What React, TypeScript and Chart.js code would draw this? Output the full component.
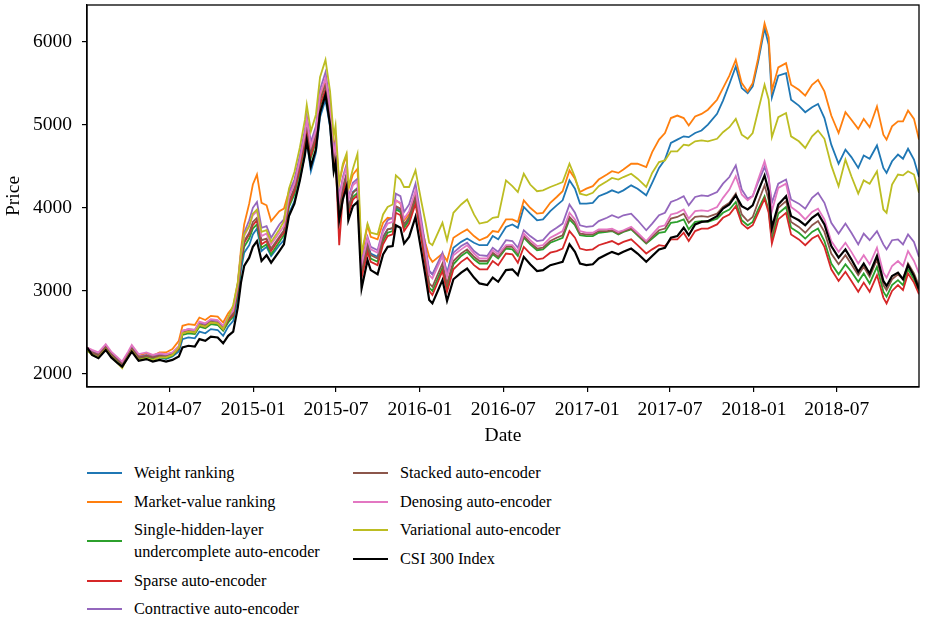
import React, { useEffect, useRef } from "react";
import { Chart, registerables } from "chart.js";

Chart.register(...registerables);

// sample dates (roughly every two weeks, plus turning points)
const dates = [
  "2014-01-02", "2014-01-13", "2014-01-27", "2014-02-12", "2014-02-24", "2014-03-10", "2014-03-20", "2014-04-02", "2014-04-10", "2014-04-25",
  "2014-05-12", "2014-05-26", "2014-06-10", "2014-06-24", "2014-07-08", "2014-07-22", "2014-07-30", "2014-08-12", "2014-08-26", "2014-09-05",
  "2014-09-18", "2014-09-30", "2014-10-15", "2014-10-27", "2014-11-07", "2014-11-18", "2014-11-28", "2014-12-05", "2014-12-12", "2014-12-23",
  "2014-12-31", "2015-01-09", "2015-01-19", "2015-01-30", "2015-02-09", "2015-02-27", "2015-03-09", "2015-03-20", "2015-04-01", "2015-04-13",
  "2015-04-24", "2015-04-28", "2015-05-07", "2015-05-18", "2015-05-27", "2015-06-08", "2015-06-18", "2015-06-26", "2015-06-30", "2015-07-08",
  "2015-07-16", "2015-07-24", "2015-07-28", "2015-08-07", "2015-08-17", "2015-08-26", "2015-09-08", "2015-09-15", "2015-09-30", "2015-10-12",
  "2015-10-22", "2015-11-02", "2015-11-09", "2015-11-19", "2015-11-27", "2015-12-08", "2015-12-22", "2016-01-04", "2016-01-13", "2016-01-21",
  "2016-01-28", "2016-02-19", "2016-02-29", "2016-03-14", "2016-03-31", "2016-04-13", "2016-04-28", "2016-05-10", "2016-05-27", "2016-06-08",
  "2016-06-20", "2016-07-07", "2016-07-21", "2016-08-02", "2016-08-15", "2016-08-29", "2016-09-13", "2016-09-26", "2016-10-12", "2016-10-26",
  "2016-11-08", "2016-11-23", "2016-12-05", "2016-12-16", "2016-12-30", "2017-01-13", "2017-01-26", "2017-02-13", "2017-02-24", "2017-03-10",
  "2017-03-21", "2017-04-07", "2017-04-21", "2017-05-10", "2017-05-23", "2017-06-07", "2017-06-20", "2017-07-03", "2017-07-17", "2017-07-31",
  "2017-08-11", "2017-08-25", "2017-09-08", "2017-09-22", "2017-10-12", "2017-10-25", "2017-11-08", "2017-11-22", "2017-12-05", "2017-12-18",
  "2017-12-29", "2018-01-10", "2018-01-24", "2018-02-02", "2018-02-09", "2018-02-23", "2018-03-12", "2018-03-23", "2018-04-09", "2018-04-23",
  "2018-05-08", "2018-05-21", "2018-06-04", "2018-06-19", "2018-07-05", "2018-07-20", "2018-08-02", "2018-08-17", "2018-08-29", "2018-09-11",
  "2018-09-27", "2018-10-11", "2018-10-18", "2018-10-30", "2018-11-12", "2018-11-23", "2018-12-04", "2018-12-17", "2018-12-28",
];

const weightRanking = [
  2300, 2250, 2210, 2310, 2220, 2150, 2100, 2220, 2290, 2180,
  2200, 2170, 2200, 2180, 2210, 2270, 2420, 2440, 2430, 2510,
  2490, 2540, 2530, 2460, 2570, 2640, 2920, 3250, 3460, 3550,
  3680, 3750, 3480, 3530, 3420, 3550, 3610, 3930, 4080, 4350,
  4640, 4810, 4440, 4660, 5090, 5300, 4970, 4460, 4580, 3950,
  4230, 4400, 4000, 4190, 4240, 3250, 3570, 3450, 3410, 3650,
  3740, 3750, 4000, 3970, 3780, 3870, 4110, 3710, 3470, 3240,
  3200, 3430, 3210, 3520, 3590, 3630, 3580, 3550, 3550, 3660,
  3620, 3770, 3800, 3760, 4010, 3930, 3850, 3860, 3960, 4030,
  4090, 4330, 4230, 4050, 4050, 4060, 4140, 4180, 4210, 4180,
  4210, 4270, 4230, 4150, 4300, 4480, 4580, 4780, 4820, 4860,
  4850, 4900, 4930, 5000, 5130, 5290, 5490, 5700, 5440, 5380,
  5460, 5760, 6160, 5960, 5330, 5590, 5620, 5300, 5230, 5150,
  5210, 5250, 5080, 4760, 4530, 4700, 4610, 4480, 4630, 4590,
  4750, 4480, 4420, 4560, 4640, 4590, 4710, 4580, 4370,
];

const marketValueRanking = [
  2320, 2270, 2240, 2340, 2250, 2180, 2140, 2250, 2320, 2220,
  2250, 2220, 2260, 2260, 2300, 2400, 2580, 2600, 2590, 2680,
  2650, 2700, 2690, 2620, 2730, 2810, 3100, 3500, 3800, 4050,
  4280, 4400, 4060, 4030, 3840, 3960, 3990, 4200, 4310, 4580,
  4880, 5050, 4720, 4900, 5320, 5510, 5200, 4720, 4840, 4300,
  4500, 4630, 4220, 4400, 4470, 3410, 3790, 3650, 3620, 3820,
  3880, 3870, 4090, 4050, 3850, 3920, 4150, 3770, 3570, 3410,
  3350, 3450, 3360, 3640, 3700, 3740, 3660, 3610, 3650, 3720,
  3710, 3860, 3860, 3830, 4090, 4000, 3930, 3940, 4060, 4130,
  4200, 4450, 4350, 4190, 4230, 4260, 4340, 4400, 4440, 4420,
  4460, 4530, 4530, 4490, 4670, 4820, 4900, 5080, 5110, 5080,
  4990, 5100, 5130, 5180, 5300, 5440, 5590, 5780, 5500, 5400,
  5500, 5800, 6220, 6050, 5410, 5690, 5740, 5480, 5420, 5350,
  5480, 5540, 5400, 5110, 4900, 5150, 5060, 4950, 5070, 4970,
  5220, 4880, 4820, 4980, 5040, 5040, 5170, 5070, 4820,
];

const singleHiddenLayer = [
  2280, 2240, 2200, 2310, 2220, 2150, 2100, 2220, 2290, 2180,
  2200, 2180, 2200, 2190, 2220, 2300, 2470, 2490, 2480, 2570,
  2550, 2600, 2590, 2520, 2620, 2690, 2980, 3320, 3530, 3630,
  3750, 3800, 3520, 3560, 3440, 3590, 3670, 4010, 4160, 4440,
  4750, 4920, 4600, 4790, 5220, 5410, 5060, 4500, 4610, 3940,
  4200, 4350, 3950, 4130, 4180, 3210, 3510, 3390, 3350, 3600,
  3700, 3720, 3980, 3950, 3760, 3850, 4120, 3680, 3350, 3040,
  3000, 3280, 3040, 3320, 3420, 3470, 3380, 3330, 3330, 3440,
  3390, 3510, 3500, 3420, 3640, 3560, 3490, 3500, 3580, 3610,
  3640, 3860, 3790, 3670, 3660, 3660, 3700, 3710, 3720, 3680,
  3710, 3740, 3670, 3570, 3630, 3700, 3710, 3820, 3830, 3860,
  3740, 3830, 3840, 3830, 3870, 3940, 3980, 4070, 3850, 3790,
  3830, 3980, 4140, 3970, 3630, 3930, 4010, 3760, 3700, 3630,
  3710, 3750, 3600, 3330, 3200, 3320, 3230, 3110, 3210, 3090,
  3290, 2990, 2930, 3070, 3130, 3070, 3260, 3140, 3000,
];

const sparseAE = [
  2300, 2260, 2230, 2330, 2240, 2170, 2120, 2240, 2310, 2200,
  2220, 2200, 2220, 2210, 2230, 2310, 2490, 2510, 2500, 2590,
  2570, 2620, 2610, 2540, 2650, 2710, 3020, 3360, 3580, 3680,
  3790, 3850, 3560, 3600, 3480, 3630, 3700, 4040, 4200, 4480,
  4790, 4960, 4630, 4820, 5240, 5420, 5070, 4500, 4620, 3550,
  4160, 4320, 3920, 4100, 4150, 3160, 3470, 3350, 3310, 3560,
  3660, 3680, 3940, 3910, 3720, 3810, 4050, 3620, 3300, 3000,
  2950, 3240, 2990, 3260, 3350, 3400, 3310, 3260, 3260, 3360,
  3310, 3450, 3440, 3340, 3530, 3450, 3380, 3390, 3460, 3480,
  3510, 3720, 3640, 3510, 3490, 3500, 3550, 3580, 3600, 3560,
  3590, 3620, 3550, 3450, 3500, 3550, 3540, 3620, 3620, 3700,
  3600, 3720, 3750, 3750, 3800, 3880, 3920, 4020, 3810, 3750,
  3790, 3940, 4110, 3940, 3570, 3860, 3940, 3680, 3620, 3550,
  3630, 3670, 3530, 3260, 3120, 3230, 3120, 2990, 3100, 2990,
  3190, 2920, 2850, 3000, 3070, 3010, 3210, 3100, 2960,
];

const contractiveAE = [
  2310, 2270, 2240, 2340, 2250, 2180, 2130, 2250, 2320, 2210,
  2230, 2210, 2240, 2220, 2250, 2330, 2520, 2540, 2530, 2620,
  2600, 2650, 2640, 2570, 2680, 2760, 3080, 3450, 3700, 3850,
  4000, 4070, 3760, 3780, 3640, 3800, 3860, 4180, 4340, 4630,
  4940, 5110, 4790, 4980, 5420, 5630, 5260, 4700, 4800, 4130,
  4370, 4520, 4120, 4300, 4350, 3350, 3650, 3530, 3490, 3740,
  3850, 3880, 4170, 4140, 3950, 4040, 4290, 3850, 3530, 3240,
  3200, 3460, 3210, 3460, 3540, 3580, 3480, 3430, 3420, 3520,
  3470, 3610, 3600, 3520, 3730, 3660, 3600, 3610, 3710, 3760,
  3810, 4040, 3940, 3790, 3770, 3780, 3840, 3880, 3910, 3880,
  3910, 3930, 3850, 3730, 3810, 3910, 3940, 4070, 4100, 4140,
  4030, 4130, 4150, 4140, 4190, 4290, 4370, 4510, 4220, 4110,
  4140, 4310, 4490, 4350, 4060, 4290, 4340, 4100, 4050, 3990,
  4120, 4180, 4060, 3820, 3690, 3810, 3700, 3560, 3690, 3610,
  3720, 3560, 3500, 3610, 3620, 3560, 3680, 3590, 3410,
];

const stackedAE = [
  2300, 2260, 2230, 2330, 2240, 2170, 2120, 2240, 2310, 2200,
  2220, 2200, 2220, 2210, 2240, 2320, 2500, 2520, 2510, 2600,
  2580, 2630, 2620, 2550, 2660, 2730, 3030, 3380, 3600, 3700,
  3830, 3880, 3610, 3630, 3510, 3650, 3730, 4080, 4240, 4530,
  4840, 5010, 4680, 4870, 5290, 5480, 5120, 4570, 4680, 3990,
  4250, 4400, 4000, 4180, 4230, 3260, 3550, 3430, 3390, 3640,
  3740, 3760, 4020, 3990, 3800, 3890, 4140, 3710, 3390, 3090,
  3050, 3330, 3090, 3360, 3450, 3500, 3410, 3360, 3360, 3460,
  3410, 3530, 3530, 3450, 3660, 3580, 3510, 3520, 3600, 3640,
  3670, 3890, 3820, 3690, 3680, 3680, 3720, 3720, 3730, 3690,
  3720, 3750, 3680, 3580, 3650, 3730, 3750, 3870, 3890, 3930,
  3820, 3890, 3900, 3890, 3930, 4010, 4060, 4170, 3920, 3840,
  3890, 4070, 4270, 4090, 3700, 4000, 4080, 3830, 3770, 3700,
  3790, 3840, 3710, 3450, 3320, 3430, 3320, 3190, 3290, 3170,
  3380, 3070, 3010, 3140, 3200, 3140, 3330, 3210, 3060,
];

const denoisingAE = [
  2320, 2290, 2260, 2360, 2270, 2200, 2150, 2270, 2350, 2240,
  2260, 2230, 2250, 2240, 2260, 2340, 2520, 2540, 2530, 2630,
  2610, 2660, 2650, 2580, 2690, 2760, 3070, 3430, 3660, 3780,
  3910, 3960, 3660, 3690, 3560, 3700, 3780, 4130, 4290, 4580,
  4890, 5060, 4740, 4930, 5360, 5560, 5200, 4650, 4760, 4090,
  4340, 4490, 4090, 4270, 4320, 3320, 3630, 3500, 3460, 3710,
  3810, 3830, 4090, 4060, 3870, 3960, 4210, 3780, 3470, 3190,
  3150, 3420, 3170, 3430, 3500, 3550, 3450, 3390, 3390, 3490,
  3440, 3550, 3550, 3470, 3690, 3610, 3540, 3550, 3640, 3680,
  3720, 3940, 3860, 3720, 3700, 3700, 3740, 3740, 3750, 3710,
  3730, 3770, 3700, 3600, 3680, 3770, 3790, 3920, 3940, 3980,
  3870, 3960, 3970, 3960, 4010, 4120, 4220, 4380, 4160, 4090,
  4140, 4340, 4560, 4380, 3960, 4240, 4290, 4010, 3940, 3860,
  3950, 3990, 3860, 3600, 3470, 3580, 3470, 3330, 3430, 3320,
  3520, 3220, 3160, 3300, 3360, 3300, 3480, 3360, 3210,
];

const variationalAE = [
  2290, 2230, 2200, 2300, 2210, 2130, 2070, 2210, 2280, 2170,
  2190, 2170, 2200, 2200, 2230, 2320, 2490, 2510, 2500, 2590,
  2570, 2620, 2610, 2540, 2680, 2830, 3100, 3450, 3680, 3780,
  3930, 3980, 3710, 3730, 3590, 3740, 3840, 4230, 4430, 4730,
  5060, 5240, 4920, 5120, 5570, 5780, 5400, 4860, 4990, 4300,
  4530, 4650, 4250, 4470, 4650, 3450, 3810, 3700, 3680, 3920,
  4010, 4040, 4390, 4340, 4250, 4250, 4450, 4070, 3820, 3580,
  3550, 3820, 3610, 3940, 4040, 4100, 3920, 3810, 3830, 3880,
  3890, 4330, 4260, 4190, 4410, 4280, 4200, 4210, 4250, 4280,
  4310, 4530, 4370, 4170, 4150, 4180, 4260, 4320, 4360, 4340,
  4370, 4410, 4350, 4250, 4420, 4550, 4570, 4680, 4680, 4760,
  4750, 4800, 4810, 4800, 4830, 4910, 4970, 5070, 4880, 4830,
  4900, 5170, 5480, 5300, 4850, 5090, 5140, 4860, 4800, 4720,
  4860, 4930, 4830, 4510, 4260, 4580, 4380, 4170, 4330, 4290,
  4440, 3980, 3940, 4280, 4400, 4390, 4440, 4400, 4180,
];

const csi300 = [
  2320, 2230, 2190, 2290, 2200, 2130, 2090, 2200, 2270, 2160,
  2180, 2150, 2170, 2150, 2170, 2210, 2320, 2340, 2330, 2420,
  2400, 2450, 2440, 2370, 2460, 2510, 2800, 3100, 3300, 3400,
  3530, 3600, 3360, 3430, 3340, 3480, 3560, 3900, 4050, 4330,
  4640, 4810, 4500, 4700, 5140, 5360, 5000, 4440, 4540, 3850,
  4100, 4250, 3850, 4020, 4070, 3030, 3370, 3250, 3200, 3440,
  3530, 3540, 3790, 3760, 3570, 3650, 3890, 3470, 3170, 2890,
  2850, 3130, 2880, 3140, 3220, 3270, 3160, 3090, 3070, 3160,
  3110, 3250, 3260, 3190, 3410, 3320, 3240, 3250, 3310, 3330,
  3350, 3560, 3470, 3330, 3310, 3320, 3390, 3440, 3470, 3440,
  3470, 3510, 3450, 3350, 3420, 3500, 3520, 3640, 3660, 3760,
  3670, 3800, 3830, 3840, 3900, 3990, 4040, 4150, 4020, 3980,
  4030, 4200, 4390, 4200, 3760, 4040, 4140, 3900, 3850, 3790,
  3880, 3930, 3800, 3540, 3400, 3500, 3380, 3230, 3330, 3210,
  3420, 3120, 3060, 3180, 3220, 3140, 3310, 3180, 3020,
];

const xTickLabels = ["2014-07", "2015-01", "2015-07", "2016-01", "2016-07", "2017-01", "2017-07", "2018-01", "2018-07"];
const yTicks = [2000, 3000, 4000, 5000, 6000];

const series = [
  { label: "Weight ranking", data: weightRanking, color: "#1f77b4" },
  { label: "Market-value ranking", data: marketValueRanking, color: "#ff7f0e" },
  { label: "Single-hidden-layer\nundercomplete auto-encoder", data: singleHiddenLayer, color: "#2ca02c" },
  { label: "Sparse auto-encoder", data: sparseAE, color: "#d62728" },
  { label: "Contractive auto-encoder", data: contractiveAE, color: "#9467bd" },
  { label: "Stacked auto-encoder", data: stackedAE, color: "#8c564b" },
  { label: "Denosing auto-encoder", data: denoisingAE, color: "#e377c2" },
  { label: "Variational auto-encoder", data: variationalAE, color: "#bcbd22" },
  { label: "CSI 300 Index", data: csi300, color: "#000000" },
];

const legendColumns = [[0, 1, 2, 3, 4], [5, 6, 7, 8]];

const FONT = "'Liberation Serif', 'Times New Roman', serif";

// day number, so the x axis is proportional to calendar time
const toDay = (s: string) => {
  const [y, m, d] = s.split("-").map(Number);
  return Date.UTC(y, m - 1, d || 1) / 86400000;
};

const framePlugin = {
  id: "frame",
  afterDatasetsDraw(chart: any) {
    const { ctx, chartArea } = chart;
    ctx.save();
    ctx.strokeStyle = "#000";
    ctx.lineWidth = 1.3;
    ctx.strokeRect(chartArea.left, chartArea.top, chartArea.right - chartArea.left, chartArea.bottom - chartArea.top);
    ctx.restore();
  },
};

const ChartComponent: React.FC = () => {
  const canvasRef = useRef<HTMLCanvasElement | null>(null);

  useEffect(() => {
    if (!canvasRef.current) return;
    const ctx = canvasRef.current.getContext("2d");
    if (!ctx) return;

    const xs = dates.map(toDay);
    const tickFont = { family: FONT, size: 19.5 };
    const labelByDay: Record<number, string> = {};
    xTickLabels.forEach((l) => (labelByDay[toDay(l + "-01")] = l));

    const chart = new Chart(ctx, {
      type: "line",
      data: {
        datasets: series.map((s, i) => ({
          label: s.label,
          data: s.data.map((v, j) => ({ x: xs[j], y: v })),
          borderColor: s.color,
          backgroundColor: s.color,
          borderWidth: i === series.length - 1 ? 2.2 : 1.8,
          pointRadius: 0,
          tension: 0,
          fill: false,
          order: series.length - i,
        })),
      },
      options: {
        responsive: false,
        animation: false,
        layout: { padding: { left: 0, right: 8, top: 5, bottom: 0 } },
        plugins: {
          legend: { display: false },
          tooltip: { enabled: false },
        },
        scales: {
          x: {
            type: "linear",
            min: xs[0],
            max: xs[xs.length - 1],
            afterBuildTicks: (axis: any) => {
              axis.ticks = xTickLabels.map((l) => ({ value: toDay(l + "-01") }));
            },
            afterFit: (axis: any) => {
              axis.height = 63;
              axis.paddingLeft = 0;
              axis.paddingRight = 0;
            },
            ticks: {
              callback: (v: any) => labelByDay[v] ?? "",
              font: tickFont,
              color: "#000",
              padding: 6,
              maxRotation: 0,
              autoSkip: false,
            },
            grid: { drawOnChartArea: false, tickLength: 5, color: "#000", lineWidth: 1.2 },
            border: { color: "#000", width: 1.3 },
            title: { display: true, text: "Date", font: tickFont, color: "#000", padding: { top: 0, bottom: 2 } },
          },
          y: {
            type: "linear",
            min: 1844,
            max: 6440,
            afterBuildTicks: (axis: any) => {
              axis.ticks = yTicks.map((v) => ({ value: v }));
            },
            afterFit: (axis: any) => {
              axis.width = 87;
              axis.paddingTop = 0;
              axis.paddingBottom = 0;
            },
            ticks: { font: tickFont, color: "#000", padding: 10, callback: (v: any) => String(v) },
            grid: { drawOnChartArea: false, tickLength: 5, color: "#000", lineWidth: 1.2 },
            border: { color: "#000", width: 1.3 },
            title: { display: true, text: "Price", font: tickFont, color: "#000", padding: { top: 2, bottom: 0 } },
          },
        },
      },
      plugins: [framePlugin],
    });

    return () => {
      chart.destroy();
    };
  }, []);

  return (
    <div style={{ position: "absolute", left: 0, top: 0, width: 927, height: 622, background: "#fff" }}>
      <canvas ref={canvasRef} width={927} height={450} style={{ display: "block" }} />
      <div style={{ position: "absolute", left: 87, top: 462, display: "flex", fontFamily: FONT, fontSize: 16.3, color: "#000" }}>
        {legendColumns.map((col, ci) => (
          <div key={ci} style={{ width: ci === 0 ? 266 : 300 }}>
            {col.map((idx) => (
              <div key={idx} style={{ display: "flex", alignItems: "center", marginBottom: 6.5 }}>
                <span style={{ display: "inline-block", width: 35, height: 2, background: series[idx].color, marginRight: 12, flex: "none" }} />
                <span style={{ whiteSpace: "pre-line", lineHeight: "22px" }}>{series[idx].label}</span>
              </div>
            ))}
          </div>
        ))}
      </div>
    </div>
  );
};

export default ChartComponent;
